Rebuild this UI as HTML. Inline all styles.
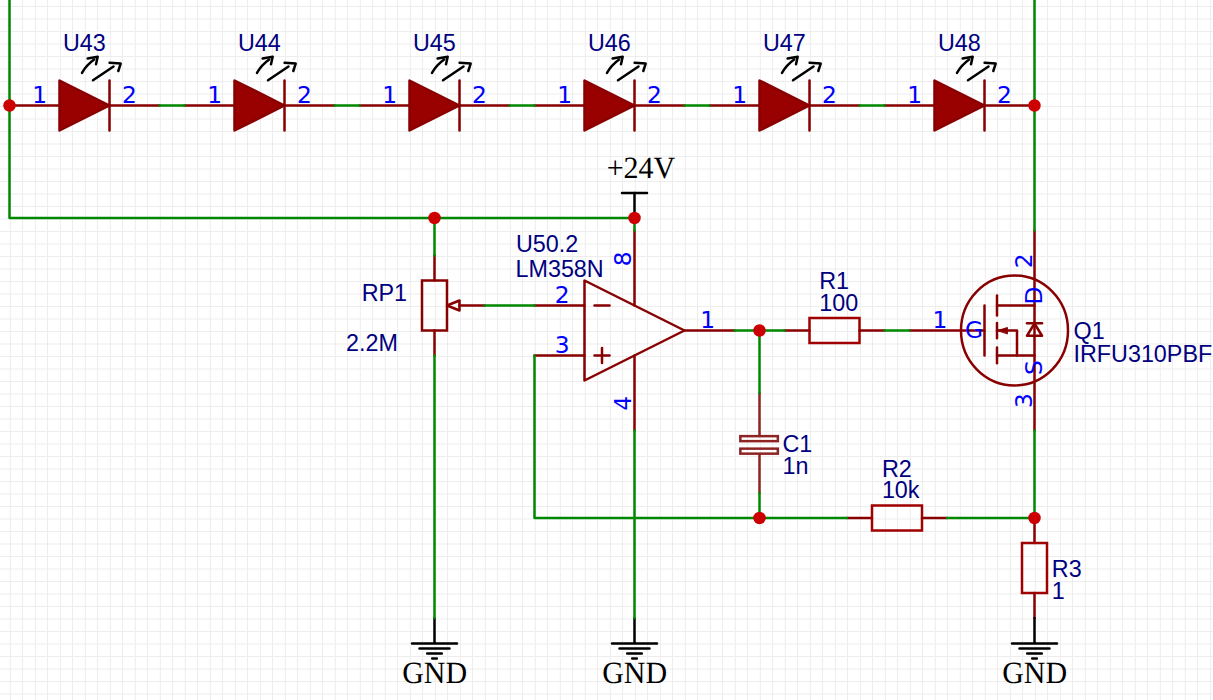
<!DOCTYPE html>
<html><head><meta charset="utf-8"><title>Schematic</title>
<style>
html,body{margin:0;padding:0;background:#fff;}
svg{display:block;}
.t{font-family:"Liberation Sans",Arial,sans-serif;}
.p{font-family:"DejaVu Sans",Verdana,sans-serif;}
.s{font-family:"Liberation Serif","Times New Roman",serif;}
line,polyline,polygon,rect,path{stroke-linecap:round;stroke-linejoin:round;}
</style></head><body>
<svg width="1213" height="700" viewBox="0 0 1213 700">
<rect x="0" y="0" width="1213" height="700" fill="#fff" stroke="none"/>
<path d="M-2.5 0V700M10.3 0V700M22.5 0V700M35.3 0V700M47.5 0V700M60.3 0V700M72.5 0V700M85.3 0V700M97.5 0V700M110.3 0V700M122.5 0V700M135.3 0V700M147.5 0V700M160.3 0V700M172.5 0V700M185.3 0V700M197.5 0V700M210.3 0V700M222.5 0V700M235.3 0V700M247.5 0V700M260.3 0V700M272.5 0V700M285.3 0V700M297.5 0V700M310.3 0V700M322.5 0V700M335.3 0V700M347.5 0V700M360.3 0V700M372.5 0V700M385.3 0V700M397.5 0V700M410.3 0V700M422.5 0V700M435.3 0V700M447.5 0V700M460.3 0V700M472.5 0V700M485.3 0V700M497.5 0V700M510.3 0V700M522.5 0V700M535.3 0V700M547.5 0V700M560.3 0V700M572.5 0V700M585.3 0V700M597.5 0V700M610.3 0V700M622.5 0V700M635.3 0V700M647.5 0V700M660.3 0V700M672.5 0V700M685.3 0V700M697.5 0V700M710.3 0V700M722.5 0V700M735.3 0V700M747.5 0V700M760.3 0V700M772.5 0V700M785.3 0V700M797.5 0V700M810.3 0V700M822.5 0V700M835.3 0V700M847.5 0V700M860.3 0V700M872.5 0V700M885.3 0V700M897.5 0V700M910.3 0V700M922.5 0V700M935.3 0V700M947.5 0V700M960.3 0V700M972.5 0V700M985.3 0V700M997.5 0V700M1010.3 0V700M1022.5 0V700M1035.3 0V700M1047.5 0V700M1060.3 0V700M1072.5 0V700M1085.3 0V700M1097.5 0V700M1110.3 0V700M1122.5 0V700M1135.3 0V700M1147.5 0V700M1160.3 0V700M1172.5 0V700M1185.3 0V700M1197.5 0V700M1210.3 0V700M1222.5 0V700M0 -6.0H1213M0 6.5H1213M0 19.0H1213M0 31.5H1213M0 44.0H1213M0 56.5H1213M0 69.0H1213M0 81.5H1213M0 94.0H1213M0 106.5H1213M0 119.0H1213M0 131.5H1213M0 144.0H1213M0 156.5H1213M0 169.0H1213M0 181.5H1213M0 194.0H1213M0 206.5H1213M0 219.0H1213M0 231.5H1213M0 244.0H1213M0 256.5H1213M0 269.0H1213M0 281.5H1213M0 294.0H1213M0 306.5H1213M0 319.0H1213M0 331.5H1213M0 344.0H1213M0 356.5H1213M0 369.0H1213M0 381.5H1213M0 394.0H1213M0 406.5H1213M0 419.0H1213M0 431.5H1213M0 444.0H1213M0 456.5H1213M0 469.0H1213M0 481.5H1213M0 494.0H1213M0 506.5H1213M0 519.0H1213M0 531.5H1213M0 544.0H1213M0 556.5H1213M0 569.0H1213M0 581.5H1213M0 594.0H1213M0 606.5H1213M0 619.0H1213M0 631.5H1213M0 644.0H1213M0 656.5H1213M0 669.0H1213M0 681.5H1213M0 694.0H1213M0 706.5H1213" stroke="#ededed" stroke-width="1" fill="none" style="stroke-linecap:butt"/>
<line x1="9.5" y1="105.5" x2="59.5" y2="105.5" stroke="#880000" stroke-width="2.5" />
<line x1="109.5" y1="105.5" x2="159.5" y2="105.5" stroke="#880000" stroke-width="2.5" />
<polygon points="59.5,80.5 59.5,130.5 109.5,105.5" fill="#990000" stroke="#880000" stroke-width="2.5"/>
<line x1="109.5" y1="80.5" x2="109.5" y2="130.5" stroke="#880000" stroke-width="2.5" />
<g transform="translate(0.0 0)" stroke="#000" stroke-width="2.5" fill="none"><path d="M82 72.9 Q86.5 65 94.2 59.6"/><path d="M87.6 58.5 L97.7 56.8 L96 64.2"/><path d="M93 80.3 L113.5 66.5"/><path d="M109.6 62.8 L120.7 63.6 L118.3 71"/></g>
<text class="t" x="62.9" y="50.5" fill="#000080" font-size="23.33" text-anchor="start">U43</text>
<text class="p" x="47.0" y="103" fill="#0000ff" font-size="23.33" text-anchor="end">1</text>
<text class="p" x="122.0" y="103" fill="#0000ff" font-size="23.33" text-anchor="start">2</text>
<line x1="184.5" y1="105.5" x2="234.5" y2="105.5" stroke="#880000" stroke-width="2.5" />
<line x1="284.5" y1="105.5" x2="334.5" y2="105.5" stroke="#880000" stroke-width="2.5" />
<polygon points="234.5,80.5 234.5,130.5 284.5,105.5" fill="#990000" stroke="#880000" stroke-width="2.5"/>
<line x1="284.5" y1="80.5" x2="284.5" y2="130.5" stroke="#880000" stroke-width="2.5" />
<g transform="translate(175.0 0)" stroke="#000" stroke-width="2.5" fill="none"><path d="M82 72.9 Q86.5 65 94.2 59.6"/><path d="M87.6 58.5 L97.7 56.8 L96 64.2"/><path d="M93 80.3 L113.5 66.5"/><path d="M109.6 62.8 L120.7 63.6 L118.3 71"/></g>
<text class="t" x="237.9" y="50.5" fill="#000080" font-size="23.33" text-anchor="start">U44</text>
<text class="p" x="222.0" y="103" fill="#0000ff" font-size="23.33" text-anchor="end">1</text>
<text class="p" x="297.0" y="103" fill="#0000ff" font-size="23.33" text-anchor="start">2</text>
<line x1="359.5" y1="105.5" x2="409.5" y2="105.5" stroke="#880000" stroke-width="2.5" />
<line x1="459.5" y1="105.5" x2="509.5" y2="105.5" stroke="#880000" stroke-width="2.5" />
<polygon points="409.5,80.5 409.5,130.5 459.5,105.5" fill="#990000" stroke="#880000" stroke-width="2.5"/>
<line x1="459.5" y1="80.5" x2="459.5" y2="130.5" stroke="#880000" stroke-width="2.5" />
<g transform="translate(350.0 0)" stroke="#000" stroke-width="2.5" fill="none"><path d="M82 72.9 Q86.5 65 94.2 59.6"/><path d="M87.6 58.5 L97.7 56.8 L96 64.2"/><path d="M93 80.3 L113.5 66.5"/><path d="M109.6 62.8 L120.7 63.6 L118.3 71"/></g>
<text class="t" x="412.9" y="50.5" fill="#000080" font-size="23.33" text-anchor="start">U45</text>
<text class="p" x="397.0" y="103" fill="#0000ff" font-size="23.33" text-anchor="end">1</text>
<text class="p" x="472.0" y="103" fill="#0000ff" font-size="23.33" text-anchor="start">2</text>
<line x1="534.5" y1="105.5" x2="584.5" y2="105.5" stroke="#880000" stroke-width="2.5" />
<line x1="634.5" y1="105.5" x2="684.5" y2="105.5" stroke="#880000" stroke-width="2.5" />
<polygon points="584.5,80.5 584.5,130.5 634.5,105.5" fill="#990000" stroke="#880000" stroke-width="2.5"/>
<line x1="634.5" y1="80.5" x2="634.5" y2="130.5" stroke="#880000" stroke-width="2.5" />
<g transform="translate(525.0 0)" stroke="#000" stroke-width="2.5" fill="none"><path d="M82 72.9 Q86.5 65 94.2 59.6"/><path d="M87.6 58.5 L97.7 56.8 L96 64.2"/><path d="M93 80.3 L113.5 66.5"/><path d="M109.6 62.8 L120.7 63.6 L118.3 71"/></g>
<text class="t" x="587.9" y="50.5" fill="#000080" font-size="23.33" text-anchor="start">U46</text>
<text class="p" x="572.0" y="103" fill="#0000ff" font-size="23.33" text-anchor="end">1</text>
<text class="p" x="647.0" y="103" fill="#0000ff" font-size="23.33" text-anchor="start">2</text>
<line x1="709.5" y1="105.5" x2="759.5" y2="105.5" stroke="#880000" stroke-width="2.5" />
<line x1="809.5" y1="105.5" x2="859.5" y2="105.5" stroke="#880000" stroke-width="2.5" />
<polygon points="759.5,80.5 759.5,130.5 809.5,105.5" fill="#990000" stroke="#880000" stroke-width="2.5"/>
<line x1="809.5" y1="80.5" x2="809.5" y2="130.5" stroke="#880000" stroke-width="2.5" />
<g transform="translate(700.0 0)" stroke="#000" stroke-width="2.5" fill="none"><path d="M82 72.9 Q86.5 65 94.2 59.6"/><path d="M87.6 58.5 L97.7 56.8 L96 64.2"/><path d="M93 80.3 L113.5 66.5"/><path d="M109.6 62.8 L120.7 63.6 L118.3 71"/></g>
<text class="t" x="762.9" y="50.5" fill="#000080" font-size="23.33" text-anchor="start">U47</text>
<text class="p" x="747.0" y="103" fill="#0000ff" font-size="23.33" text-anchor="end">1</text>
<text class="p" x="822.0" y="103" fill="#0000ff" font-size="23.33" text-anchor="start">2</text>
<line x1="884.5" y1="105.5" x2="934.5" y2="105.5" stroke="#880000" stroke-width="2.5" />
<line x1="984.5" y1="105.5" x2="1034.5" y2="105.5" stroke="#880000" stroke-width="2.5" />
<polygon points="934.5,80.5 934.5,130.5 984.5,105.5" fill="#990000" stroke="#880000" stroke-width="2.5"/>
<line x1="984.5" y1="80.5" x2="984.5" y2="130.5" stroke="#880000" stroke-width="2.5" />
<g transform="translate(875.0 0)" stroke="#000" stroke-width="2.5" fill="none"><path d="M82 72.9 Q86.5 65 94.2 59.6"/><path d="M87.6 58.5 L97.7 56.8 L96 64.2"/><path d="M93 80.3 L113.5 66.5"/><path d="M109.6 62.8 L120.7 63.6 L118.3 71"/></g>
<text class="t" x="937.9" y="50.5" fill="#000080" font-size="23.33" text-anchor="start">U48</text>
<text class="p" x="922.0" y="103" fill="#0000ff" font-size="23.33" text-anchor="end">1</text>
<text class="p" x="997.0" y="103" fill="#0000ff" font-size="23.33" text-anchor="start">2</text>
<line x1="634.5" y1="218.0" x2="634.5" y2="193.0" stroke="#000" stroke-width="2.5" />
<line x1="622.0" y1="193.0" x2="647.0" y2="193.0" stroke="#000" stroke-width="2.5" />
<text class="s" transform="translate(606.7 178) scale(1 1.03)" style="text-rendering:geometricPrecision" fill="#000" font-size="30" text-anchor="start">+24V</text>
<line x1="434.5" y1="255.5" x2="434.5" y2="280.5" stroke="#880000" stroke-width="2.5" />
<rect x="422.0" y="280.5" width="25.0" height="50.0" stroke="#880000" fill="none" stroke-width="2.5" style="stroke-linejoin:miter"/>
<line x1="434.5" y1="330.5" x2="434.5" y2="355.5" stroke="#880000" stroke-width="2.5" />
<polygon points="447.0,305.5 459.5,300.5 459.5,310.5" fill="none" stroke="#880000" stroke-width="2.5"/>
<line x1="459.5" y1="305.5" x2="484.5" y2="305.5" stroke="#880000" stroke-width="2.5" />
<text class="t" x="361.7" y="300.8" fill="#000080" font-size="23.33" text-anchor="start">RP1</text>
<text class="t" x="346" y="351" fill="#000080" font-size="23.33" text-anchor="start">2.2M</text>
<polygon points="584.5,280.5 584.5,380.5 684.5,330.5" fill="none" stroke="#880000" stroke-width="2.5"/>
<line x1="534.5" y1="305.5" x2="584.5" y2="305.5" stroke="#880000" stroke-width="2.5" />
<line x1="534.5" y1="355.5" x2="584.5" y2="355.5" stroke="#880000" stroke-width="2.5" />
<line x1="684.5" y1="330.5" x2="734.5" y2="330.5" stroke="#880000" stroke-width="2.5" />
<line x1="634.5" y1="230.5" x2="634.5" y2="305.5" stroke="#880000" stroke-width="2.5" />
<line x1="634.5" y1="355.5" x2="634.5" y2="430.5" stroke="#880000" stroke-width="2.5" />
<line x1="594.5" y1="305.5" x2="609.5" y2="305.5" stroke="#880000" stroke-width="2.5" />
<line x1="594.5" y1="355.5" x2="609.5" y2="355.5" stroke="#880000" stroke-width="2.5" />
<line x1="602.0" y1="348.0" x2="602.0" y2="363.0" stroke="#880000" stroke-width="2.5" />
<text class="t" x="516" y="252" fill="#000080" font-size="23.33" text-anchor="start">U50.2</text>
<text class="t" x="515.5" y="277" fill="#000080" font-size="23.33" text-anchor="start">LM358N</text>
<text class="p" x="554.8" y="303" fill="#0000ff" font-size="23.33" text-anchor="start">2</text>
<text class="p" x="554.8" y="353" fill="#0000ff" font-size="23.33" text-anchor="start">3</text>
<text class="p" x="700.2" y="328" fill="#0000ff" font-size="23.33" text-anchor="start">1</text>
<text class="p" x="631.5" y="266.3" fill="#0000ff" font-size="23.33" text-anchor="start" transform="rotate(-90 631.5 266.3)">8</text>
<text class="p" x="631.5" y="410.8" fill="#0000ff" font-size="23.33" text-anchor="start" transform="rotate(-90 631.5 410.8)">4</text>
<line x1="784.5" y1="330.5" x2="809.5" y2="330.5" stroke="#880000" stroke-width="2.5" />
<rect x="809.5" y="318.0" width="50.0" height="25.0" stroke="#A00000" fill="none" stroke-width="2.5" style="stroke-linejoin:miter"/>
<line x1="859.5" y1="330.5" x2="884.5" y2="330.5" stroke="#880000" stroke-width="2.5" />
<text class="t" x="819.25" y="288.8" fill="#000080" font-size="23.33" text-anchor="start">R1</text>
<text class="t" x="819.25" y="310.8" fill="#000080" font-size="23.33" text-anchor="start">100</text>
<line x1="759.5" y1="393.0" x2="759.5" y2="436.0" stroke="#8D2323" stroke-width="2.5" />
<line x1="759.5" y1="454.5" x2="759.5" y2="493.0" stroke="#8D2323" stroke-width="2.5" />
<rect x="740.35" y="436.15" width="37.5" height="5" stroke="#8D2323" fill="none" stroke-width="2.5" style="stroke-linejoin:miter"/>
<rect x="740.35" y="448.65" width="37.5" height="5" stroke="#8D2323" fill="none" stroke-width="2.5" style="stroke-linejoin:miter"/>
<text class="t" x="782.5" y="451.6" fill="#000080" font-size="23.33" text-anchor="start">C1</text>
<text class="t" x="782.5" y="473.9" fill="#000080" font-size="23.33" text-anchor="start">1n</text>
<line x1="847.0" y1="518.0" x2="872.0" y2="518.0" stroke="#880000" stroke-width="2.5" />
<rect x="872.0" y="505.5" width="50.0" height="25.0" stroke="#A00000" fill="none" stroke-width="2.5" style="stroke-linejoin:miter"/>
<line x1="922.0" y1="518.0" x2="947.0" y2="518.0" stroke="#880000" stroke-width="2.5" />
<text class="t" x="881.9" y="476.6" fill="#000080" font-size="23.33" text-anchor="start">R2</text>
<text class="t" x="881.9" y="497.8" fill="#000080" font-size="23.33" text-anchor="start">10k</text>
<line x1="1034.5" y1="518.0" x2="1034.5" y2="543.0" stroke="#880000" stroke-width="2.5" />
<rect x="1022.0" y="543.0" width="25.0" height="50.0" stroke="#A00000" fill="none" stroke-width="2.5" style="stroke-linejoin:miter"/>
<line x1="1034.5" y1="593.0" x2="1034.5" y2="618.0" stroke="#880000" stroke-width="2.5" />
<text class="t" x="1051.8" y="576.6" fill="#000080" font-size="23.33" text-anchor="start">R3</text>
<text class="t" x="1051.8" y="598.9" fill="#000080" font-size="23.33" text-anchor="start">1</text>
<line x1="909.5" y1="330.5" x2="984.5" y2="330.5" stroke="#880000" stroke-width="2.5" />
<line x1="984.5" y1="305.5" x2="984.5" y2="355.5" stroke="#880000" stroke-width="2.5" />
<ellipse cx="1014.5" cy="330.5" rx="53.5" ry="54.9" fill="none" stroke="#880000" stroke-width="2.5"/>
<line x1="1034.5" y1="230.5" x2="1034.5" y2="430.5" stroke="#880000" stroke-width="2.5" />
<line x1="997.0" y1="295.5" x2="997.0" y2="315.5" stroke="#880000" stroke-width="2.5" />
<line x1="997.0" y1="323.0" x2="997.0" y2="338.25" stroke="#880000" stroke-width="2.5" />
<line x1="997.0" y1="347.5" x2="997.0" y2="363.25" stroke="#880000" stroke-width="2.5" />
<line x1="997.0" y1="305.5" x2="1034.5" y2="305.5" stroke="#880000" stroke-width="2.5" />
<line x1="997.0" y1="355.5" x2="1034.5" y2="355.5" stroke="#880000" stroke-width="2.5" />
<polyline points="997.0,330.5 1017.0,330.5 1017.0,355.5" fill="none" stroke="#880000" stroke-width="2.5"/>
<polygon points="998.0,330.5 1007.4,327.5 1007.4,333.6" fill="#880000" stroke="#880000" stroke-width="1"/>
<polygon points="1034.5,323.5 1027.0,335.75 1042.0,335.75" fill="#fff" stroke="#880000" stroke-width="2.5"/>
<line x1="1027.0" y1="323.25" x2="1042.0" y2="323.25" stroke="#880000" stroke-width="2.5" />
<line x1="1034.5" y1="324.25" x2="1034.5" y2="335.5" stroke="#880000" stroke-width="2.5" />
<text class="p" x="932.6" y="328" fill="#0000ff" font-size="23.33" text-anchor="start">1</text>
<text class="p" x="965" y="337.6" fill="#0000ff" font-size="23.33" text-anchor="start">G</text>
<text class="p" x="1042.4" y="304.5" fill="#0000ff" font-size="23.33" text-anchor="start" transform="rotate(-90 1042.4 304.5)">D</text>
<text class="p" x="1042.4" y="375" fill="#0000ff" font-size="23.33" text-anchor="start" transform="rotate(-90 1042.4 375)">S</text>
<text class="p" x="1031.9" y="268.2" fill="#0000ff" font-size="23.33" text-anchor="start" transform="rotate(-90 1031.9 268.2)">2</text>
<text class="p" x="1031.9" y="407.9" fill="#0000ff" font-size="23.33" text-anchor="start" transform="rotate(-90 1031.9 407.9)">3</text>
<text class="t" x="1073.5" y="338.9" fill="#000080" font-size="23.33" text-anchor="start">Q1</text>
<text class="t" x="1073.5" y="362.4" fill="#000080" font-size="23.33" text-anchor="start">IRFU310PBF</text>
<path d="M434.5 618V643.4M412.0 643.4H457.0M419.5 648.4H449.5M427.2 653.5H441.8M432.2 658.4H436.8" stroke="#000" stroke-width="2.5" fill="none"/>
<text class="s" transform="translate(434.7 683) scale(1 1.03)" style="text-rendering:geometricPrecision" fill="#000" font-size="30" text-anchor="middle">GND</text>
<path d="M634.5 618V643.4M612.0 643.4H657.0M619.5 648.4H649.5M627.2 653.5H641.8M632.2 658.4H636.8" stroke="#000" stroke-width="2.5" fill="none"/>
<text class="s" transform="translate(634.7 683) scale(1 1.03)" style="text-rendering:geometricPrecision" fill="#000" font-size="30" text-anchor="middle">GND</text>
<path d="M1034.5 618V643.4M1012.0 643.4H1057.0M1019.5 648.4H1049.5M1027.2 653.5H1041.8M1032.2 658.4H1036.8" stroke="#000" stroke-width="2.5" fill="none"/>
<text class="s" transform="translate(1034.7 683) scale(1 1.03)" style="text-rendering:geometricPrecision" fill="#000" font-size="30" text-anchor="middle">GND</text>
<polyline points="9.5,-19.5 9.5,218.0 634.5,218.0" stroke="#008800" fill="none" stroke-width="2.5"/>
<polyline points="1034.5,-19.5 1034.5,230.5" stroke="#008800" fill="none" stroke-width="2.5"/>
<polyline points="634.5,218.0 634.5,230.5" stroke="#008800" fill="none" stroke-width="2.5"/>
<polyline points="434.5,218.0 434.5,255.5" stroke="#008800" fill="none" stroke-width="2.5"/>
<polyline points="434.5,355.5 434.5,618.0" stroke="#008800" fill="none" stroke-width="2.5"/>
<polyline points="484.5,305.5 534.5,305.5" stroke="#008800" fill="none" stroke-width="2.5"/>
<polyline points="534.5,355.5 534.5,518.0 847.0,518.0" stroke="#008800" fill="none" stroke-width="2.5"/>
<polyline points="634.5,430.5 634.5,618.0" stroke="#008800" fill="none" stroke-width="2.5"/>
<polyline points="734.5,330.5 784.5,330.5" stroke="#008800" fill="none" stroke-width="2.5"/>
<polyline points="759.5,330.5 759.5,393.0" stroke="#008800" fill="none" stroke-width="2.5"/>
<polyline points="759.5,493.0 759.5,518.0" stroke="#008800" fill="none" stroke-width="2.5"/>
<polyline points="884.5,330.5 909.5,330.5" stroke="#008800" fill="none" stroke-width="2.5"/>
<polyline points="947.0,518.0 1034.5,518.0" stroke="#008800" fill="none" stroke-width="2.5"/>
<polyline points="1034.5,430.5 1034.5,518.0" stroke="#008800" fill="none" stroke-width="2.5"/>
<polyline points="159.5,105.5 184.5,105.5" stroke="#008800" fill="none" stroke-width="2.5"/>
<polyline points="334.5,105.5 359.5,105.5" stroke="#008800" fill="none" stroke-width="2.5"/>
<polyline points="509.5,105.5 534.5,105.5" stroke="#008800" fill="none" stroke-width="2.5"/>
<polyline points="684.5,105.5 709.5,105.5" stroke="#008800" fill="none" stroke-width="2.5"/>
<polyline points="859.5,105.5 884.5,105.5" stroke="#008800" fill="none" stroke-width="2.5"/>
<circle cx="9.5" cy="105.5" r="6.25" fill="#cc0000"/>
<circle cx="1034.5" cy="105.5" r="6.25" fill="#cc0000"/>
<circle cx="434.5" cy="218.0" r="6.25" fill="#cc0000"/>
<circle cx="634.5" cy="218.0" r="6.25" fill="#cc0000"/>
<circle cx="759.5" cy="330.5" r="6.25" fill="#cc0000"/>
<circle cx="759.5" cy="518.0" r="6.25" fill="#cc0000"/>
<circle cx="1034.5" cy="518.0" r="6.25" fill="#cc0000"/>
</svg></body></html>
